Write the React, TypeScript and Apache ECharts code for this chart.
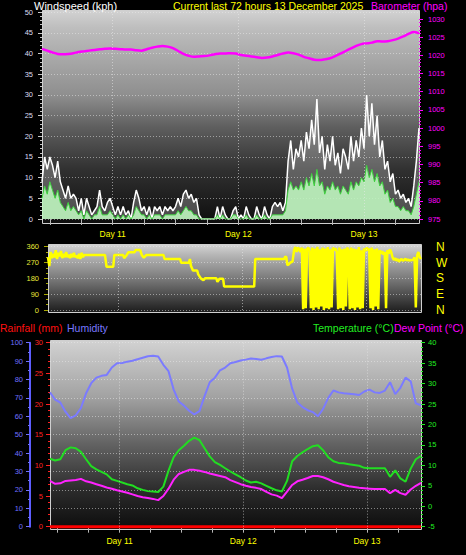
import React, { useEffect, useRef } from 'react';
import * as echarts from 'echarts';

const FONT = '"Liberation Sans", Arial, Helvetica, sans-serif';

// x axis: hours since the start of the 72-hour window
const dayLabelHours = [13.5, 37.5, 61.5];
const dayNames = ['Day 11', 'Day 12', 'Day 13'];
const sixHourTicks = [1.5, 7.5, 13.5, 19.5, 25.5, 31.5, 37.5, 43.5, 49.5, 55.5, 61.5, 67.5];

// wind speed (kph), every half hour
const windStep = 0.5;
const windGust = [
  9, 15, 12, 15, 13, 10, 14, 9, 7, 5,
  8, 5, 6, 5, 2, 5, 1, 5, 3, 1,
  2, 3, 7, 3, 2, 4, 5, 3, 1, 3,
  1, 3, 1, 2, 0, 4, 7, 5, 2, 3,
  1, 3, 0, 3, 2, 3, 1, 3, 2, 3,
  2, 3, 5, 3, 6, 7, 5, 6, 4, 5,
  1, 0, 0, 0, 0, 0, 0, 3, 0, 3,
  1, 0, 0, 2, 3, 0, 1, 0, 3, 1,
  0, 0, 3, 1, 0, 3, 1, 0, 3, 4,
  3, 4, 2, 4, 14, 19, 12, 17, 15, 19,
  14, 21, 17, 24, 18, 29, 16, 20, 12, 18,
  14, 20, 13, 16, 11, 17, 15, 12, 20, 14,
  19, 15, 22, 17, 30, 20, 28, 18, 25, 15,
  19, 12, 14, 9, 11, 6, 7, 5, 6, 4,
  5, 3, 8, 14, 22,
];
const windAvg = [
  5, 8, 6, 9, 7, 5, 7, 4, 3, 2,
  4, 2, 3, 2, 1, 2, 0, 2, 1, 0,
  1, 1, 3, 1, 1, 1, 2, 1, 0, 1,
  0, 1, 0, 1, 0, 1, 3, 2, 1, 1,
  0, 1, 0, 1, 1, 1, 0, 1, 1, 1,
  1, 1, 2, 1, 2, 3, 2, 2, 1, 1,
  0, 0, 0, 0, 0, 0, 0, 1, 0, 1,
  0, 0, 0, 1, 1, 0, 0, 0, 1, 0,
  0, 0, 1, 0, 0, 1, 0, 0, 1, 1,
  1, 1, 1, 2, 7, 9, 7, 8, 7, 9,
  7, 10, 8, 11, 8, 12, 8, 9, 6, 8,
  7, 9, 7, 8, 6, 8, 7, 6, 9, 7,
  9, 8, 10, 9, 13, 10, 12, 9, 11, 8,
  9, 6, 7, 4, 5, 3, 3, 2, 3, 2,
  2, 1, 3, 6, 9,
];

// hourly series
const hourStep = 1;
const barometer = [
  1021.8, 1021.3, 1020.8, 1020.4, 1020.3, 1020.4, 1020.6, 1020.9, 1021.1, 1021.3,
  1021.5, 1021.7, 1021.8, 1021.9, 1021.8, 1021.7, 1021.6, 1021.6, 1021.4, 1021.3,
  1021.7, 1022.1, 1022.4, 1022.6, 1022.4, 1022.0, 1021.2, 1020.4, 1019.9, 1019.6,
  1019.7, 1019.8, 1020.0, 1020.3, 1020.5, 1020.5, 1020.6, 1020.5, 1020.1, 1019.9,
  1019.7, 1019.5, 1019.3, 1019.4, 1019.7, 1020.1, 1020.5, 1020.8, 1020.6, 1020.2,
  1019.6, 1019.2, 1018.8, 1018.7, 1018.9, 1019.2, 1019.8, 1020.5, 1021.2, 1021.9,
  1022.6, 1023.1, 1023.3, 1023.5, 1023.9, 1023.8, 1023.9, 1024.2, 1024.6, 1025.2,
  1025.9, 1026.4, 1026.1,
];
const humidity = [
  73, 69, 67.5, 62.5, 59, 60.5, 64.5, 72.5, 78, 81,
  82, 82.5, 86.5, 88.8, 89, 89.7, 90.2, 91, 91.8, 92.6,
  92.9, 92.5, 88, 84.5, 74.5, 68, 65.8, 63, 61, 62.8,
  71, 78.5, 81, 85, 86.5, 88.8, 89.5, 90.3, 90.8, 91.4,
  91.2, 90.7, 91.5, 92.2, 92.7, 92.5, 86.5, 75, 67.5, 65,
  63.3, 62.3, 60, 64, 70, 74, 73, 72.5, 72.3, 72,
  71.6, 73.5, 74.5, 73, 72.7, 74, 78.5, 72, 75.5, 81,
  79, 67, 66,
];
const temperature = [
  11.6, 11.2, 11.5, 13.7, 14.4, 14.2, 13.3, 11.5, 9.8, 9.0,
  8.4, 7.8, 6.6, 6.2, 5.8, 5.4, 5.1, 4.4, 4.0, 3.7,
  3.6, 3.5, 4.8, 8.7, 12.0, 13.7, 14.8, 16.0, 16.8, 16.2,
  14.2, 12.2, 10.8, 10.1, 9.3, 8.5, 7.8, 7.1, 6.3, 5.8,
  6.0, 5.6, 5.0, 4.4, 3.9, 3.6, 6.2, 11.0, 12.3, 13.2,
  14.0, 14.7, 14.9, 13.7, 12.0, 11.0, 10.6, 10.5, 10.3, 10.1,
  9.9, 9.4, 9.3, 9.3, 9.3, 9.3, 7.2, 8.8, 6.8, 6.0,
  9.2, 11.5, 12.3,
];
const dewPoint = [
  6.2, 5.5, 5.6, 6.2, 6.3, 6.4, 6.7, 6.1, 5.8, 5.4,
  5.0, 4.6, 4.3, 3.9, 3.6, 3.3, 2.9, 2.5, 2.2, 2.0,
  1.8, 1.5, 2.5, 4.3, 6.5, 7.9, 8.4, 8.9, 8.9, 8.7,
  8.4, 8.0, 7.7, 7.4, 7.1, 6.4, 5.9, 5.4, 5.0, 4.7,
  4.5, 4.2, 3.5, 2.9, 2.6, 2.0, 3.6, 5.2, 6.1, 6.5,
  6.9, 7.4, 7.4, 7.1, 6.6, 6.0, 5.6, 5.2, 4.9, 4.7,
  4.5, 4.4, 4.3, 4.2, 4.2, 4.2, 3.2, 4.0, 3.2, 2.8,
  4.1, 5.0, 5.7,
];
const rainHours = [0, 6, 12, 18, 24, 30, 36, 42, 48, 54, 60, 66, 72];
const rainfall = [0, 0, 0, 0, 0, 0, 0, 0, 0, 0, 0, 0, 0];

// wind direction (degrees) as [hour, bearing]
const windDirection = [
  [0, 300], [0.25, 250], [0.5, 330], [0.75, 295], [1, 320], [1.25, 300], [1.5, 340], [1.75, 290],
  [2, 325], [2.25, 305], [2.5, 335], [2.75, 295], [3, 320], [3.25, 300], [3.5, 330], [3.75, 300],
  [4, 315], [4.25, 295], [4.5, 320], [4.75, 300], [5, 325], [5.25, 300], [5.5, 310], [5.75, 295],
  [6, 320], [6.25, 290], [6.5, 325], [6.75, 300], [7, 313],
  [11, 313], [11.3, 246], [12.6, 246], [12.8, 313], [14.5, 313], [14.7, 295], [15.2, 313],
  [15.5, 328], [16.7, 328], [16.9, 341], [17.8, 341], [18.1, 313], [18.5, 297], [19, 313],
  [22.3, 313], [22.5, 290], [25.5, 290], [25.7, 269], [27.2, 269], [27.4, 290], [27.6, 250],
  [28, 224], [28.8, 224], [29, 203], [29.5, 180], [30, 170], [30.3, 180], [32.5, 180],
  [32.7, 160], [33.1, 178], [33.8, 178], [34, 133], [39.8, 133], [40, 290], [45.6, 290],
  [45.8, 305], [46, 300], [46.2, 256], [46.5, 260], [46.8, 270], [47.2, 275],
  [47.5, 340], [47.75, 358], [48, 330], [48.25, 355], [48.5, 345], [48.75, 330], [49, 355],
  [49.25, 5], [49.5, 350], [49.75, 10], [50, 345], [50.25, 355], [50.5, 335],
  [50.75, 10], [51, 355], [51.25, 0], [51.5, 350], [51.75, 15], [52, 360], [52.25, 5],
  [52.5, 345], [52.75, 20], [53, 355], [53.25, 0], [53.5, 350], [53.75, 10], [54, 358],
  [54.25, 5], [54.5, 345], [54.75, 15],
  [55, 355], [55.25, 340], [55.5, 350], [55.75, 330],
  [56, 5], [56.25, 355], [56.5, 10], [56.75, 345], [57, 0], [57.25, 350], [57.5, 20], [57.75, 355],
  [58, 340],
  [58.25, 5], [58.5, 355], [58.75, 10], [59, 350], [59.25, 0], [59.5, 345], [59.75, 15],
  [60, 358], [60.25, 5], [60.5, 340], [60.75, 10], [61, 350],
  [61.25, 335], [61.5, 355], [61.75, 340], [62, 350],
  [62.25, 10], [62.5, 355], [62.75, 0], [63, 345], [63.25, 20], [63.5, 350], [63.75, 5], [64, 340],
  [64.25, 320], [64.5, 335], [64.75, 315], [65, 330], [65.25, 10], [65.5, 340], [65.75, 320],
  [66, 345], [66.25, 330], [66.5, 300],
  [66.75, 285], [67, 295], [67.25, 280], [67.5, 290], [67.75, 275], [68, 285], [68.25, 290],
  [68.5, 280], [68.75, 285], [69, 292], [69.25, 282], [69.5, 288], [69.75, 280], [70, 285],
  [70.25, 283], [70.5, 287], [70.75, 300], [71, 15], [71.25, 310], [71.5, 330], [71.75, 300],
  [72, 290],
];

const compassLabels: Record<number, string> = { 0: 'N', 90: 'E', 180: 'S', 270: 'W', 360: 'N' };

const pair = (arr: number[], step: number) => arr.map((v, i) => [i * step, v]);

function dayName(v: number) {
  let best = 0;
  for (let i = 1; i < dayLabelHours.length; i++) {
    if (Math.abs(dayLabelHours[i] - v) < Math.abs(dayLabelHours[best] - v)) best = i;
  }
  return dayNames[best];
}

function xAxisFor(gridIndex: number, showLabels: boolean, margin: number) {
  return {
    type: 'value',
    gridIndex,
    min: 0,
    max: 72,
    axisLine: { show: false, onZero: false },
    splitLine: { show: false },
    axisTick: {
      show: showLabels,
      customValues: sixHourTicks,
      length: 6,
      lineStyle: { color: '#b8b8b8' },
    },
    axisLabel: {
      show: showLabels,
      customValues: dayLabelHours,
      formatter: (v: number) => dayName(v),
      color: '#ffff00',
      fontSize: 8.5,
      fontFamily: FONT,
      margin,
    },
  };
}

function yAxisFor(o: any) {
  return {
    type: 'value',
    gridIndex: o.grid,
    min: o.min,
    max: o.max,
    interval: o.interval,
    position: o.position,
    offset: o.offset || 0,
    axisLine: { show: !!o.lineColor, onZero: false, lineStyle: { color: o.lineColor || '#000', width: 2 } },
    axisTick: { show: o.ticks !== false, length: 4, lineStyle: { color: o.tickColor } },
    minorTick: {
      show: !!o.minor,
      splitNumber: o.minor || 5,
      length: 2,
      lineStyle: { color: o.tickColor },
    },
    axisLabel: {
      color: o.labelColor,
      fontSize: o.fontSize || 7.5,
      fontFamily: FONT,
      margin: o.margin,
      formatter: o.formatter || ((v: number) => String(v)),
    },
    splitLine: o.split
      ? { show: true, lineStyle: { color: 'rgba(235,235,235,0.5)', type: [1, 2], width: 1 } }
      : { show: false },
  };
}

const dayLine = {
  silent: true,
  symbol: 'none',
  label: { show: false },
  lineStyle: { color: 'rgba(235,235,235,0.55)', type: [1, 2], width: 1 },
  data: dayLabelHours.map((h) => ({ xAxis: h })),
};

function bgRect(x: number, y: number, w: number, h: number, stops: [number, string][]) {
  return {
    type: 'rect',
    z: -10,
    silent: true,
    shape: { x: x + 0.5, y: y + 0.5, width: w, height: h },
    style: {
      fill: new echarts.graphic.LinearGradient(
        0, 0, 0, 1,
        stops.map(([offset, color]) => ({ offset, color }))
      ),
      stroke: '#cfcfcf',
      lineWidth: 1,
    },
  };
}

function title(text: string, x: number, y: number, color: string, size = 10.5) {
  return {
    type: 'text',
    x,
    y,
    silent: true,
    style: {
      text,
      fill: color,
      font: `${size}px ${FONT}`,
      textAlign: 'left',
      textVerticalAlign: 'middle',
    },
  };
}

function buildOption() {
  return {
    animation: false,
    backgroundColor: '#000000',
    grid: [
      { left: 42, right: 47, top: 12.3, height: 206.7 },
      { left: 42, right: 47, top: 19, height: 200 },
      { left: 48, right: 45, top: 246.7, height: 63.3 },
      { left: 50, right: 45, top: 342.7, height: 184 },
    ],
    xAxis: [
      xAxisFor(0, true, 10),
      xAxisFor(1, false, 0),
      xAxisFor(2, false, 0),
      xAxisFor(3, true, 9.5),
    ],
    yAxis: [
      yAxisFor({ grid: 0, min: 0, max: 50, interval: 5, position: 'left', labelColor: '#dcdcf0', tickColor: '#c8c8c8', minor: 5, margin: 9, split: true }),
      yAxisFor({ grid: 1, min: 975, max: 1030, interval: 5, position: 'right', labelColor: '#ff00ff', tickColor: '#ff00ff', minor: 5, margin: 9 }),
      yAxisFor({ grid: 2, min: 0, max: 360, interval: 90, position: 'left', labelColor: '#e8e83a', tickColor: '#a8a800', minor: 3, margin: 9, split: true }),
      yAxisFor({ grid: 2, min: 0, max: 360, interval: 90, position: 'right', labelColor: '#ffff00', tickColor: '#ffff00', ticks: false, margin: 15, fontSize: 12, formatter: (v: number) => compassLabels[v] ?? '' }),
      yAxisFor({ grid: 3, min: 0, max: 30, interval: 5, position: 'left', labelColor: '#ff2020', tickColor: '#ff2020', minor: 5, margin: 7 }),
      yAxisFor({ grid: 3, min: 0, max: 100, interval: 10, position: 'left', offset: 20, labelColor: '#6f6fff', tickColor: '#6f6fff', lineColor: '#5d5dff', minor: 2, margin: 7, split: true }),
      yAxisFor({ grid: 3, min: -5, max: 40, interval: 5, position: 'right', labelColor: '#22ee22', tickColor: '#22ee22', minor: 5, margin: 7 }),
    ],
    graphic: [
      bgRect(42, 10, 377, 213, [[0, '#d2d2d2'], [0.08, '#bebebe'], [0.4, '#8e8e8e'], [0.55, '#5e5e5e'], [0.75, '#303030'], [1, '#0e0e0e']]),
      bgRect(48, 244, 373, 68, [[0, '#d4d4d4'], [0.15, '#b6b6b6'], [0.5, '#7a7a7a'], [1, '#1c1c1c']]),
      bgRect(50, 340, 371, 189, [[0, '#d2d2d2'], [0.3, '#a2a2a2'], [0.55, '#626262'], [0.8, '#2a2a2a'], [1, '#0c0c0c']]),
      title('Windspeed (kph)', 34, 5.5, '#ffffff', 11),
      title('Current last 72 hours 13 December 2025', 173, 5.5, '#ffff00', 10.5),
      title('Barometer (hpa)', 371, 5.5, '#ff00ff', 10.5),
      title('Rainfall (mm)', 0, 327.5, '#ff1010', 10.5),
      title('Humidity', 67, 327.5, '#7878ff', 10.5),
      title('Temperature (°C)', 313, 327.5, '#22ee22', 10.5),
      title('Dew Point (°C)', 394, 327.5, '#ff00ff', 10.5),
    ],
    series: [
      {
        name: 'Gust',
        type: 'line',
        xAxisIndex: 0,
        yAxisIndex: 0,
        data: pair(windGust, windStep),
        symbol: 'none',
        lineStyle: { color: '#ffffff', width: 1.5 },
        areaStyle: { color: 'rgba(255,255,255,0.35)' },
        z: 2,
        markLine: dayLine,
      },
      {
        name: 'Average',
        type: 'line',
        xAxisIndex: 0,
        yAxisIndex: 0,
        data: pair(windAvg, windStep),
        symbol: 'none',
        lineStyle: { color: '#3ed23e', width: 1 },
        areaStyle: { color: '#bff5bf', opacity: 0.9 },
        z: 3,
      },
      {
        name: 'Barometer',
        type: 'line',
        xAxisIndex: 1,
        yAxisIndex: 1,
        data: pair(barometer, hourStep),
        symbol: 'none',
        smooth: 0.3,
        lineStyle: { color: '#ff00ff', width: 2.5 },
        z: 4,
      },
      {
        name: 'Wind Direction',
        type: 'line',
        xAxisIndex: 2,
        yAxisIndex: 2,
        data: windDirection,
        symbol: 'none',
        lineStyle: { color: '#ffff00', width: 2.5 },
        markLine: dayLine,
      },
      {
        name: 'Humidity',
        type: 'line',
        xAxisIndex: 3,
        yAxisIndex: 5,
        data: pair(humidity, hourStep),
        symbol: 'none',
        lineStyle: { color: '#7b7bff', width: 2 },
        markLine: dayLine,
      },
      {
        name: 'Temperature',
        type: 'line',
        xAxisIndex: 3,
        yAxisIndex: 6,
        data: pair(temperature, hourStep),
        symbol: 'none',
        lineStyle: { color: '#22dd22', width: 2 },
      },
      {
        name: 'Dew Point',
        type: 'line',
        xAxisIndex: 3,
        yAxisIndex: 6,
        data: pair(dewPoint, hourStep),
        symbol: 'none',
        lineStyle: { color: '#ff22ff', width: 2 },
      },
      {
        name: 'Rainfall',
        type: 'line',
        xAxisIndex: 3,
        yAxisIndex: 4,
        data: rainHours.map((h, i) => [h, rainfall[i]]),
        symbol: 'none',
        clip: false,
        lineStyle: { color: '#ff0000', width: 3 },
      },
    ],
  };
}

export default function App() {
  const ref = useRef<HTMLDivElement>(null);
  useEffect(() => {
    if (!ref.current) return;
    const chart = echarts.init(ref.current, null, { renderer: 'svg' });
    chart.setOption(buildOption() as any);
    return () => chart.dispose();
  }, []);
  return (
    <div
      ref={ref}
      style={{ position: 'fixed', left: 0, top: 0, width: 466, height: 555, background: '#000' }}
    />
  );
}
